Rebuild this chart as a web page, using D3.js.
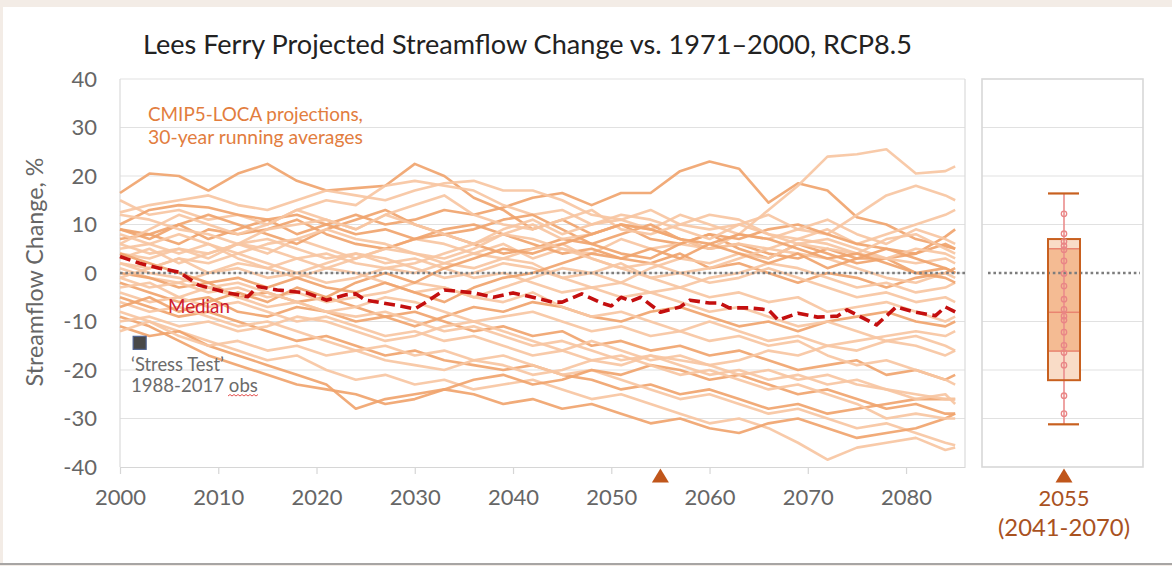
<!DOCTYPE html>
<html>
<head>
<meta charset="utf-8">
<script src="https://cdn.jsdelivr.net/npm/d3@7"></script>
<style>
  body { margin: 0; background: #f3ece6; }
  svg { display: block; font-family: Lato, "Open Sans", sans-serif; }
</style>
</head>
<body>
<svg id="chart" width="1172" height="566"></svg>
<script>
// ---- data -------------------------------------------------------------
const titleText = "Lees Ferry Projected Streamflow Change vs. 1971\u20132000, RCP8.5";
const yTicks = [-40, -30, -20, -10, 0, 10, 20, 30, 40];
const xTicks = [2000, 2010, 2020, 2030, 2040, 2050, 2060, 2070, 2080];

// years shared by the CMIP5-LOCA 30-year running averages
const years = [2000, 2003, 2006, 2009, 2012, 2015, 2018, 2021, 2024, 2027,
               2030, 2033, 2036, 2039, 2042, 2045, 2048, 2051, 2054, 2057,
               2060, 2063, 2066, 2069, 2072, 2075, 2078, 2081, 2084, 2085];

const run01 = [16.5, 20.5, 20, 17, 20.5, 22.5, 19, 17, 17.5, 18, 22.5, 20, 15.5, 13, 9, 11, 8, 10, 7, 6, 8, 5, 3, 6, 4, 2, 3, 0, 1, 0];
const run02 = [9, 8, 10, 7, 9, 11, 8, 10, 12, 10, 11, 13, 12, 13.5, 15.5, 16.5, 14, 16.5, 16.5, 21, 23, 21.5, 14.5, 18.5, 17, 11.5, 10, 7, 5.5, 5];
const run03 = [6, 4, 5, 3, 6, 4, 7, 5, 3, 5, 7, 6, 4, 6, 3, 5, 4, 7, 5, 6, 5, 8, 13, 18, 24, 24.5, 25.5, 20.5, 21, 22];
const run04 = [15, 12, 13, 11, 12, 10, 13, 15, 14, 18, 19, 18, 17, 14, 12, 13, 10, 11, 9, 12, 10, 8, 7, 9, 8, 12, 16, 18, 16, 15];
const run05 = [12.5, 14, 15, 16, 14, 13, 15, 17, 16, 15, 17, 18.5, 19, 17, 17, 15, 12, 11, 13, 10, 9, 10, 8, 7, 9, 6, 8, 10, 12, 13];
const run06 = [10, 13, 14, 13.5, 12, 11, 12, 10, 8, 9, 7, 9, 10, 8, 6, 4, 5, 3, 2, 4, 1, 2, 0, -2, 0, -1, -3, -1, 0, 1];
const run07 = [9, 7, 10, 12, 10, 8, 6, 9, 11, 13, 10, 8, 9, 11, 12, 9, 6, 8, 10, 7, 5, 6, 4, 3, 5, 3, 3, 4, 7.5, 9];
const run08 = [7, 8, 6, 9, 8, 9, 11, 8, 6, 5, 7, 8, 6, 4, 5, 7, 6, 4, 3, 6, 8, 7, 9, 10, 8, 6, 5, 4, 6, 5];
const run09 = [5, 6, 8, 6, 4, 6, 7, 9, 7, 6, 4, 3, 5, 8, 10, 7, 8, 10, 9, 7, 5, 6, 5, 7, 6, 4, 7, 8, 5, 4];
const run10 = [4, 3, 5, 4, 6, 9, 10, 11, 9, 12, 14, 16, 12, 10, 9, 11, 13, 9, 8, 10, 12, 11, 8, 6, 7, 5, 3, 2, 3, 2];
const run11 = [2, 1, 3, 0, 2, 1, 3, 4, 2, 1, 0, 2, 4, 3, 5, 6, 3, 1, 2, 0, 1, 3, 5, 4, 3, 1, -1, -2, 0, -1];
const run12 = [1, -1, -2, 0, 1, -1, 0, 2, 4, 3, 1, -1, 0, 2, 1, -1, 0, 2, -1, -3, -1, 0, 2, 1, -1, -3, -2, -4, -3, -2];
const run13 = [0, -1, -3, -2, -5, -4, -6, -5, -7, -9, -8, -10, -12, -11, -13, -12, -15, -14, -16, -15, -17, -16, -18, -20, -19, -18, -21, -20, -22, -21];
const run14 = [-1, -3, -2, -4, -3, -5, -4, -6, -5, -4, -2, -3, -5, -3, -1, 1, 0, -2, 1, 3, 2, 4, 3, 6, 5, 4, 3, 5, 4, 3];
const run15 = [-2, -4, -6, -5, -8, -9, -7, -8, -10, -9, -11, -9, -7, -8, -6, -7, -9, -10, -8, -7, -9, -11, -10, -12, -10, -9, -8, -10, -11, -10];
const run16 = [-3, -2, -5, -7, -6, -8, -10, -9, -11, -13, -12, -14, -13, -15, -17, -16, -14, -16, -18, -17, -19, -18, -16, -17, -15, -16, -14, -15, -17, -16];
const run17 = [-4, -6, -5, -3, -5, -7, -6, -8, -7, -5, -6, -8, -10, -9, -8, -10, -12, -11, -13, -12, -10, -12, -14, -13, -15, -14, -13, -12, -13, -12];
const run18 = [-5, -7, -9, -8, -10, -12, -14, -13, -15, -17, -16, -18, -19, -20, -19, -21, -22, -24, -23, -25, -24, -26, -28, -27, -29, -28, -27, -26, -26, -26];
const run19 = [-6, -8, -7, -9, -11, -10, -12, -14, -16, -15, -17, -16, -18, -17, -19, -21, -20, -22, -24, -26, -25, -27, -29, -28, -30, -32, -31, -33, -35, -35.5];
const run20 = [-8, -10, -12, -14, -16, -18, -17, -20, -22, -21, -23, -22, -24, -23, -22, -24, -26, -25, -27, -29, -31, -30, -32, -35, -38.5, -36, -35, -34, -36.5, -36];
const run21 = [-9, -11, -14, -17, -19, -21, -23, -24, -25, -27, -26, -24, -25, -27, -26, -28, -27, -29, -31, -30, -32, -33, -31, -30, -32, -34, -33, -32, -30, -29];
const run22 = [-11, -13, -12, -15, -17, -19, -21, -23, -28, -26, -25, -24, -22, -21, -23, -22, -20, -21, -19, -20, -22, -21, -23, -25, -24, -26, -28, -27, -29, -29];
const run23 = [-12, -10, -13, -15, -14, -16, -15, -17, -16, -18, -19, -20, -18, -19, -21, -20, -18, -19, -17, -18, -19, -21, -20, -22, -21, -23, -24, -25, -26, -26];
const run24 = [3, 5, 2, 4, 6, 5, 3, 1, 3, 5, 4, 2, 1, 3, 2, -1, -3, -2, -4, -3, -5, -4, -6, -5, -8, -7, -6, -8, -10, -9];
const run25 = [12, 11, 9, 8, 6, 7, 5, 3, 4, 2, 3, 1, -1, 0, -2, -4, -3, -5, -4, -6, -8, -7, -9, -11, -10, -12, -14, -13, -15, -16];
const run26 = [-7, -5, -8, -6, -4, -6, -3, -5, -2, 0, -2, 1, 3, 5, 4, 6, 8, 10, 9, 7, 6, 8, 7, 5, 3, 4, 2, 0, -1, -2];
const run27 = [2, 0, -1, -3, -2, -4, -6, -8, -9, -8, -10, -12, -11, -13, -15, -14, -16, -18, -17, -19, -21, -20, -22, -21, -23, -22, -24, -26, -25, -27];
const run28 = [6, 9, 12, 10, 8, 10, 13, 11, 9, 12, 10, 8, 6, 9, 11, 8, 10, 12, 11, 9, 7, 10, 12, 9, 11, 8, 6, 9, 7, 6];
const run29 = [-10, -9, -11, -10, -12, -11, -9, -10, -12, -14, -13, -11, -10, -12, -14, -16, -18, -17, -19, -21, -20, -22, -24, -23, -25, -27, -30, -29, -30, -30];
const run30 = [8, 6, 4, 6, 3, 1, -1, 1, 0, -2, -4, -3, -5, -6, -4, -7, -9, -8, -10, -12, -14, -13, -15, -14, -17, -19, -18, -20, -22, -23];
const run31 = [4, 2, 0, -2, -1, -3, -1, -3, -4, -2, -4, -6, -3, -1, 0, 2, 4, 3, 5, 3, 6, 4, 2, 4, 1, 3, 5, 3, 1, 0];
const run32 = [-1, 1, 3, 2, 4, 2, 0, -2, -1, 1, 2, 4, 6, 8, 7, 5, 3, 1, -1, 0, -2, -1, 1, -1, -3, -5, -4, -6, -5, -6];

const runs = [run01, run02, run03, run04, run05, run06, run07, run08, run09, run10,
              run11, run12, run13, run14, run15, run16, run17, run18, run19, run20,
              run21, run22, run23, run24, run25, run26, run27, run28, run29, run30,
              run31, run32];

// ensemble median
const medianYears = [2000, 2002, 2004, 2006, 2008, 2011, 2013, 2014, 2016, 2019,
                     2021, 2023, 2024, 2025, 2028, 2030, 2031, 2033, 2036, 2038,
                     2040, 2042, 2044, 2045, 2047, 2049, 2050, 2051, 2052, 2053,
                     2055, 2057, 2058, 2060, 2061, 2062, 2064, 2066, 2067, 2069,
                     2071, 2073, 2074, 2077, 2079, 2081, 2083, 2084, 2085];
const medianValues = [3.4, 2.0, 1.0, 0.2, -2.5, -4.1, -4.9, -2.8, -3.5, -4.1,
                      -5.6, -4.5, -4.3, -5.6, -6.6, -7.4, -6.2, -3.5, -4.1, -5.0,
                      -4.1, -5.0, -6.0, -6.0, -4.3, -6.2, -6.8, -5.0, -5.8, -5.0,
                      -8.1, -7.0, -5.6, -6.2, -6.2, -7.2, -7.2, -7.6, -9.7, -8.3,
                      -9.1, -8.9, -7.6, -10.7, -7.0, -8.1, -8.8, -7.0, -8.0];

// 'Stress Test' observed period
const stressYear = 2002;
const stressValue = -14.4;

// 2055 (2041-2070) distribution: min, low, q1, median, q3, high, max
const boxValues = [-31.2, -22.1, -16.1, -8.1, 5.0, 7.0, 16.4];
const boxPoints = [12.2, 8.1, 6.5, 5.6, 4.8, 2.5, -0.1, -2.7, -5.4, -7.5,
                   -8.9, -9.7, -12.2, -14.9, -16.4, -19.0, -25.3, -29.0];
const markerYear = 2055;
const periodLabel = ["2055", "(2041-2070)"];

// ---- drawing ----------------------------------------------------------
const W = 1172, H = 566;
const svg = d3.select("#chart");

svg.append("rect").attr("width", W).attr("height", H).attr("fill", "#f3ece6");
svg.append("rect").attr("x", 3).attr("y", 7).attr("width", W - 3).attr("height", 556).attr("fill", "#ffffff");
svg.append("line").attr("x1", 0).attr("x2", W).attr("y1", 564).attr("y2", 564)
  .attr("stroke", "#8e8e8e").attr("stroke-width", 1.5);

const plot = { left: 120, right: 965, top: 79, bottom: 467 };
const panel = { left: 982, right: 1143 };

const x = d3.scaleLinear().domain([2000, 2086]).range([plot.left, plot.right]);
const y = d3.scaleLinear().domain([-40, 40]).range([plot.bottom, plot.top]);

function fitText(sel, target, start) {
  sel.attr("font-size", start);
  const w = sel.node().getComputedTextLength();
  sel.attr("font-size", start * target / w);
  return sel;
}

// title
fitText(svg.append("text").attr("x", 143).attr("y", 54).attr("fill", "#222")
  .text(titleText), 769, 25);

// gridlines
svg.append("g").selectAll("line").data(yTicks.filter(d => d > -40)).join("line")
  .attr("x1", plot.left).attr("x2", plot.right)
  .attr("y1", d => y(d)).attr("y2", d => y(d))
  .attr("stroke", "#e1e1e1").attr("stroke-width", 1.2);

svg.append("line").attr("x1", plot.left).attr("x2", plot.left)
  .attr("y1", plot.top).attr("y2", plot.bottom).attr("stroke", "#dadada").attr("stroke-width", 1.2);
svg.append("line").attr("x1", plot.right).attr("x2", plot.right)
  .attr("y1", plot.top).attr("y2", plot.bottom).attr("stroke", "#dadada").attr("stroke-width", 1.2);

// x axis
const xAxis = svg.append("g").attr("transform", `translate(0,${plot.bottom})`)
  .call(d3.axisBottom(x).tickValues(xTicks).tickFormat(d3.format("d"))
    .tickSize(7).tickSizeOuter(0).tickPadding(15));
xAxis.select(".domain").attr("stroke", "#d6d6d6").attr("stroke-width", 1.2);
xAxis.selectAll(".tick line").attr("stroke", "#d6d6d6").attr("stroke-width", 1.2);
xAxis.selectAll(".tick text").attr("fill", "#666").attr("font-size", 22)
  .attr("font-family", "Lato, sans-serif");

// y axis (plain hyphen for negatives)
const yAxis = svg.append("g").attr("transform", `translate(${plot.left},0)`)
  .call(d3.axisLeft(y).tickValues(yTicks).tickFormat(d => String(d))
    .tickSize(0).tickPadding(23));
yAxis.select(".domain").remove();
yAxis.selectAll(".tick text").attr("fill", "#666").attr("font-size", 22)
  .attr("font-family", "Lato, sans-serif");

fitText(svg.append("text").attr("transform", "translate(43,272) rotate(-90)")
  .attr("text-anchor", "middle").attr("fill", "#666")
  .text("Streamflow Change, %"), 229, 22);

// model runs
const darkRuns = new Set([0, 1, 5, 6, 7, 12, 14, 17, 20, 21, 25, 30]);
const runLine = d3.line().x((d, i) => x(years[i])).y(d => y(d));
svg.append("g").selectAll("path").data(runs).join("path")
  .attr("d", runLine)
  .attr("fill", "none")
  .attr("stroke", (d, i) => darkRuns.has(i) ? "#f0a46e" : "#f7c6a2")
  .attr("stroke-opacity", 0.92)
  .attr("stroke-width", 2.6)
  .attr("stroke-linejoin", "round");

// zero reference
svg.append("line").attr("x1", plot.left).attr("x2", plot.right)
  .attr("y1", y(0)).attr("y2", y(0))
  .attr("stroke", "#7d7d7d").attr("stroke-width", 2.6).attr("stroke-dasharray", "2.6 2.8");

// median
const medLine = d3.line().x((d, i) => x(medianYears[i])).y(d => y(d));
svg.append("path").datum(medianValues).attr("d", medLine)
  .attr("fill", "none").attr("stroke", "#c40f0f").attr("stroke-width", 3.6)
  .attr("stroke-dasharray", "11 5.5").attr("stroke-linejoin", "round");

// annotations
const orange = "#e27d3e";
fitText(svg.append("text").attr("x", 148).attr("y", 121).attr("fill", orange)
  .text("CMIP5-LOCA projections,"), 215, 18);
fitText(svg.append("text").attr("x", 148).attr("y", 144).attr("fill", orange)
  .text("30-year running averages"), 215, 18);
fitText(svg.append("text").attr("x", 168).attr("y", 313).attr("fill", "#cf2030")
  .text("Median"), 62, 18);

svg.append("rect")
  .attr("x", x(stressYear) - 6.5).attr("y", y(stressValue) - 6.5)
  .attr("width", 13).attr("height", 13)
  .attr("fill", "#484848").attr("stroke", "#4f6290").attr("stroke-width", 1.2);
fitText(svg.append("text").attr("x", 131).attr("y", 371).attr("fill", "#6b6b6b")
  .text("\u2018Stress Test\u2019"), 93, 18);
fitText(svg.append("text").attr("x", 131).attr("y", 392).attr("fill", "#6b6b6b")
  .text("1988-2017 obs"), 127, 18);
// proofing squiggle under "obs"
const sq = d3.path();
sq.moveTo(228, 396);
for (let k = 0; k < 15; k++) sq.lineTo(230 + k * 2, k % 2 ? 396 : 394.5);
svg.append("path").attr("d", sq.toString()).attr("fill", "none")
  .attr("stroke", "#e0403c").attr("stroke-width", 0.9);

// period markers
const triColor = "#c0561b";
function triangle(cx) {
  const p = d3.path();
  p.moveTo(cx, plot.bottom + 1.5);
  p.lineTo(cx + 8.5, plot.bottom + 15.5);
  p.lineTo(cx - 8.5, plot.bottom + 15.5);
  p.closePath();
  return p.toString();
}
const bx = (panel.left + panel.right) / 2 + 1.5;
svg.append("path").attr("d", triangle(x(markerYear))).attr("fill", triColor);
svg.append("path").attr("d", triangle(bx)).attr("fill", triColor);

// ---- 2055 distribution panel -------------------------------------------
svg.append("g").selectAll("line").data(yTicks.filter(d => d > -40 && d < 40 && d !== 0)).join("line")
  .attr("x1", panel.left).attr("x2", panel.right)
  .attr("y1", d => y(d)).attr("y2", d => y(d))
  .attr("stroke", "#e1e1e1").attr("stroke-width", 1.2);
svg.append("rect").attr("x", panel.left).attr("y", plot.top)
  .attr("width", panel.right - panel.left).attr("height", plot.bottom - plot.top)
  .attr("fill", "none").attr("stroke", "#d8d8d8").attr("stroke-width", 1.6);

const [bMin, bLow, bQ1, bMed, bQ3, bHigh, bMax] = boxValues;
const bw = 32;
svg.append("rect").attr("x", bx - bw / 2).attr("y", y(bHigh))
  .attr("width", bw).attr("height", y(bLow) - y(bHigh)).attr("fill", "#f9dcc7");
svg.append("rect").attr("x", bx - bw / 2).attr("y", y(bQ3))
  .attr("width", bw).attr("height", y(bQ1) - y(bQ3)).attr("fill", "#f4bb93");

svg.append("line").attr("x1", bx).attr("x2", bx).attr("y1", y(bMax)).attr("y2", y(bMin))
  .attr("stroke", "#ea8d8c").attr("stroke-width", 1.6);

svg.append("g").selectAll("line").data([bQ3, bMed, bQ1]).join("line")
  .attr("x1", bx - bw / 2).attr("x2", bx + bw / 2)
  .attr("y1", d => y(d)).attr("y2", d => y(d))
  .attr("stroke", "#e98470").attr("stroke-width", 1.5);

svg.append("line").attr("x1", panel.left + 6).attr("x2", panel.right - 3)
  .attr("y1", y(0)).attr("y2", y(0))
  .attr("stroke", "#7d7d7d").attr("stroke-width", 2.6).attr("stroke-dasharray", "2.6 2.8");

svg.append("rect").attr("x", bx - bw / 2).attr("y", y(bHigh))
  .attr("width", bw).attr("height", y(bLow) - y(bHigh))
  .attr("fill", "none").attr("stroke", "#c8601f").attr("stroke-width", 2);

svg.append("g").selectAll("line").data([bMax, bMin]).join("line")
  .attr("x1", bx - bw / 2).attr("x2", bx + bw / 2 - 1)
  .attr("y1", d => y(d)).attr("y2", d => y(d))
  .attr("stroke", "#c8601f").attr("stroke-width", 2.2);

svg.append("g").selectAll("circle").data(boxPoints).join("circle")
  .attr("cx", bx).attr("cy", d => y(d)).attr("r", 2.7)
  .attr("fill", "none").attr("stroke", "#e98586").attr("stroke-width", 1.3);

const labColor = "#a9521f";
svg.append("text").attr("x", bx).attr("y", 506).attr("text-anchor", "middle")
  .attr("fill", labColor).attr("font-size", 22).text(periodLabel[0]);
fitText(svg.append("text").attr("x", bx).attr("y", 536).attr("text-anchor", "middle")
  .attr("fill", labColor).text(periodLabel[1]), 132, 22);
</script>
</body>
</html>
